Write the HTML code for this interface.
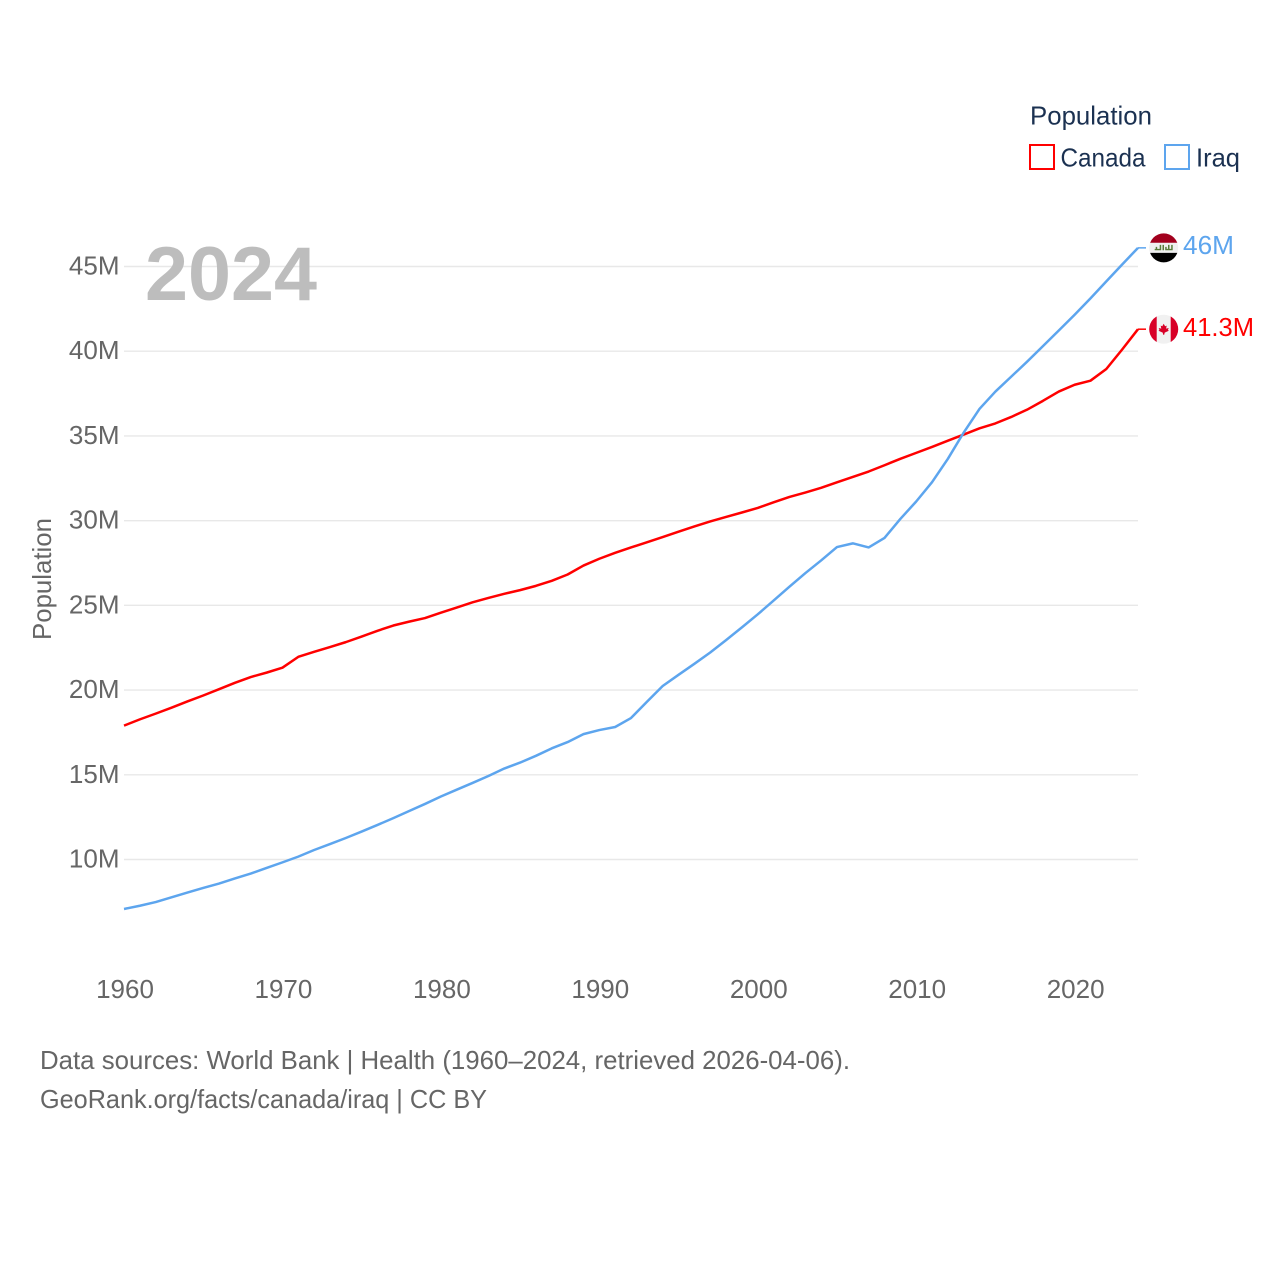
<!DOCTYPE html>
<html lang="en">
<head>
<meta charset="utf-8">
<title>Population: Canada and Iraq</title>
<style>
  html, body { margin: 0; padding: 0; background: #ffffff; }
  svg { display: block; }
  text { font-family: "Liberation Sans", Arial, sans-serif; }
</style>
</head>
<body>
<svg id="chart" xmlns="http://www.w3.org/2000/svg" width="1280" height="1280" viewBox="0 0 1280 1280">
  <defs>
    <clipPath id="flag-clip-circle"><circle cx="0" cy="0" r="14.5"></circle></clipPath>
  </defs>
  <rect x="0" y="0" width="1280" height="1280" fill="#ffffff"></rect>
  <g id="grid"></g>
  <g id="yticks"></g>
  <g id="xticks"></g>
  <text x="145" y="300" font-size="76" font-weight="700" fill="#bdbdbd" textLength="172" lengthAdjust="spacingAndGlyphs">2024</text>
  <text transform="translate(51,640) rotate(-90)" font-size="26" fill="#666666" textLength="122" lengthAdjust="spacingAndGlyphs">Population</text>
  <g id="series"></g>
  <g id="ends"></g>

  <g>
    <text x="1030" y="124.5" font-size="26" fill="#1b3151" textLength="122" lengthAdjust="spacingAndGlyphs">Population</text>
    <g>
      <rect x="1030" y="145" width="24" height="24" fill="#ffffff" stroke="#ff0000" stroke-width="2"></rect>
      <text x="1060.5" y="166.5" font-size="26" fill="#1b3151" textLength="85" lengthAdjust="spacingAndGlyphs">Canada</text>
    </g>
    <g>
      <rect x="1165" y="145" width="24" height="24" fill="#ffffff" stroke="#5da5ee" stroke-width="2"></rect>
      <text x="1196" y="166.5" font-size="26" fill="#1b3151" textLength="44" lengthAdjust="spacingAndGlyphs">Iraq</text>
    </g>
  </g>

  <text x="40" y="1069" font-size="26" fill="#666666" textLength="810" lengthAdjust="spacingAndGlyphs">Data sources: World Bank | Health (1960–2024, retrieved 2026-04-06).</text>
  <text x="40" y="1108" font-size="26" fill="#666666" textLength="447" lengthAdjust="spacingAndGlyphs">GeoRank.org/facts/canada/iraq | CC BY</text>
</svg>
<script>
const years = [1960,1961,1962,1963,1964,1965,1966,1967,1968,1969,1970,1971,1972,1973,1974,1975,1976,1977,1978,1979,1980,1981,1982,1983,1984,1985,1986,1987,1988,1989,1990,1991,1992,1993,1994,1995,1996,1997,1998,1999,2000,2001,2002,2003,2004,2005,2006,2007,2008,2009,2010,2011,2012,2013,2014,2015,2016,2017,2018,2019,2020,2021,2022,2023,2024];
const canadaValues = [17.9,18.27,18.61,18.96,19.33,19.68,20.05,20.43,20.77,21.03,21.32,21.96,22.26,22.54,22.83,23.16,23.5,23.81,24.04,24.25,24.57,24.87,25.18,25.44,25.68,25.9,26.15,26.45,26.82,27.35,27.75,28.1,28.42,28.72,29.03,29.35,29.66,29.95,30.22,30.48,30.75,31.08,31.4,31.66,31.94,32.26,32.58,32.9,33.27,33.65,34.0,34.35,34.72,35.08,35.45,35.74,36.12,36.55,37.07,37.62,38.02,38.26,38.95,40.1,41.3];
const iraqValues = [7.08,7.27,7.49,7.77,8.05,8.32,8.58,8.88,9.17,9.5,9.83,10.17,10.56,10.91,11.27,11.65,12.04,12.44,12.86,13.28,13.72,14.12,14.52,14.93,15.37,15.72,16.12,16.56,16.93,17.4,17.64,17.82,18.35,19.3,20.24,20.9,21.55,22.22,22.95,23.7,24.47,25.28,26.1,26.9,27.65,28.44,28.66,28.42,28.98,30.1,31.13,32.27,33.65,35.2,36.6,37.62,38.5,39.38,40.3,41.22,42.15,43.12,44.12,45.12,46.1];
const yTickValues = [10,15,20,25,30,35,40,45];
const yTickLabels = ["10M","15M","20M","25M","30M","35M","40M","45M"];
const xTickValues = [1960,1970,1980,1990,2000,2010,2020];
const endLabels = ["41.3M","46M"];

const NS = "http://www.w3.org/2000/svg";
function xScale(year) { return 124 + (year - 1960) * (1138 - 124) / 64; }
function yScale(v) { return 859.5 - (v - 10) * (593 / 35); }
function make(tag, parent, attrs) {
  const el = document.createElementNS(NS, tag);
  for (const k in attrs) el.setAttribute(k, attrs[k]);
  parent.appendChild(el);
  return el;
}

const grid = document.getElementById("grid");
const yticks = document.getElementById("yticks");
yTickValues.forEach(function (v, i) {
  const line = make("line", grid, { x1: 124, x2: 1138, y1: yScale(v), y2: yScale(v), stroke: "#e8e8e8", "stroke-width": 1.4 });
  
  
  const label = make("text", yticks, { x: 119.5, y: yScale(v) + 8, "text-anchor": "end", "font-size": 26, fill: "#666666" });
  
  
  label.textContent = yTickLabels[i];
});

const xticks = document.getElementById("xticks");
xTickValues.forEach(function (yr) {
  const label = make("text", xticks, { x: xScale(yr) + 1, y: 998, "text-anchor": "middle", "font-size": 26, fill: "#666666" });
  
  
  label.textContent = yr;
});

function pathFor(values) {
  return values.map(function (v, i) {
    return (i ? "L" : "M") + xScale(years[i]).toFixed(2) + " " + yScale(v).toFixed(2);
  }).join(" ");
}

const series = document.getElementById("series");
const canadaLine = make("path", series, { d: pathFor(canadaValues), fill: "none", stroke: "#ff0000", "stroke-width": 2.5, "stroke-linejoin": "round" });


const iraqLine = make("path", series, { d: pathFor(iraqValues), fill: "none", stroke: "#5da5ee", "stroke-width": 2.5, "stroke-linejoin": "round" });



const ends = document.getElementById("ends");
function lastOf(values) { return values[values.length - 1]; }

/* Canada end marker */
const canadaY = yScale(lastOf(canadaValues));
const canadaStub = make("line", ends, { x1: 1138, x2: 1146, y1: canadaY, y2: canadaY, stroke: "#ff0000", "stroke-width": 1.5 });


const canadaFlag = make("g", ends, { transform: "translate(1163.7," + canadaY + ")", "clip-path": "url(#flag-clip-circle)" });


make("rect", canadaFlag, { x: -15, y: -15, width: 30, height: 30, fill: "#f1f1f1" });
make("rect", canadaFlag, { x: -15, y: -15, width: 8, height: 30, fill: "#d80027" });
make("rect", canadaFlag, { x: 7, y: -15, width: 8, height: 30, fill: "#d80027" });
make("path", canadaFlag, { d: "M0 -5.5 L1.4 -3 L3 -3.6 L2.4 -0.6 L5 -1.2 L4.2 0.8 L5.2 1.6 L1 3.4 L0.5 5.5 L-0.5 5.5 L-1 3.4 L-5.2 1.6 L-4.2 0.8 L-5 -1.2 L-2.4 -0.6 L-3 -3.6 L-1.4 -3 Z", fill: "#d80027" });
const canadaLabel = make("text", ends, { x: 1183, y: canadaY + 7, "font-size": 26, fill: "#ff0000", textLength: 71, lengthAdjust: "spacingAndGlyphs" });


canadaLabel.textContent = endLabels[0];

/* Iraq end marker */
const iraqY = yScale(lastOf(iraqValues));
const iraqStub = make("line", ends, { x1: 1138, x2: 1146, y1: iraqY, y2: iraqY, stroke: "#5da5ee", "stroke-width": 1.5 });


const iraqFlag = make("g", ends, { transform: "translate(1163.7," + iraqY + ")", "clip-path": "url(#flag-clip-circle)" });


make("rect", iraqFlag, { x: -15, y: -15, width: 30, height: 10, fill: "#a2001d" });
make("rect", iraqFlag, { x: -15, y: -5, width: 30, height: 10, fill: "#f0f0f0" });
make("rect", iraqFlag, { x: -15, y: 5, width: 30, height: 10, fill: "#000000" });
make("path", iraqFlag, { d: "M-9 2.4 H-2.5 V-3 H-4 V1 H-6.5 V-1 H-8 V1 H-9 Z M-1.2 2.4 H0.3 V-3 H-1.2 Z M1.5 2.4 H9 V-3 H7.5 V1 H5.8 V-3 H4.3 V1 H3 V-1 H1.5 Z", fill: "#5a7d3a" });
const iraqLabel = make("text", ends, { x: 1183, y: iraqY + 6, "font-size": 26, fill: "#5da5ee", textLength: 51, lengthAdjust: "spacingAndGlyphs" });


iraqLabel.textContent = endLabels[1];
</script>
</body>
</html>
